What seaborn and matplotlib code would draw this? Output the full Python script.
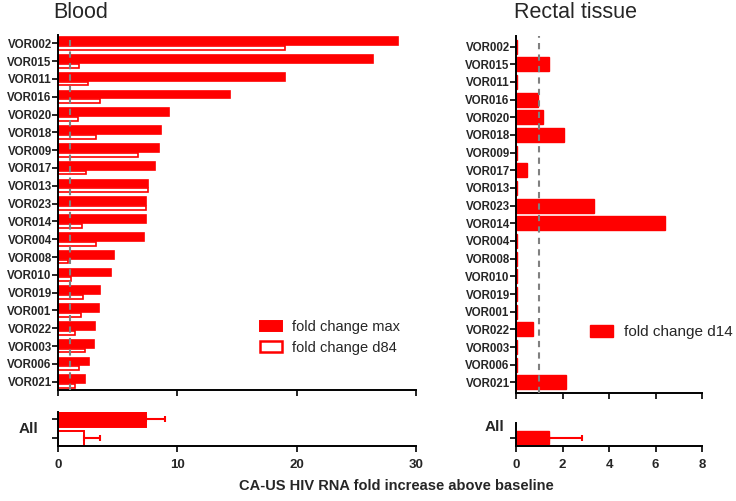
import numpy as np
import pandas as pd
import matplotlib
matplotlib.use("Agg")
import matplotlib.pyplot as plt
import seaborn as sns
from matplotlib.patches import Patch

# ---------------- data ----------------
patients = ["VOR002", "VOR015", "VOR011", "VOR016", "VOR020", "VOR018", "VOR009",
            "VOR017", "VOR013", "VOR023", "VOR014", "VOR004", "VOR008", "VOR010",
            "VOR019", "VOR001", "VOR022", "VOR003", "VOR006", "VOR021"]
blood_max = [28.5, 26.4, 19.0, 14.4, 9.3, 8.6, 8.5, 8.1, 7.5, 7.4,
             7.4, 7.2, 4.7, 4.4, 3.5, 3.4, 3.1, 3.0, 2.6, 2.3]
blood_d84 = [19.0, 1.8, 2.5, 3.5, 1.65, 3.2, 6.7, 2.35, 7.5, 7.4,
             2.0, 3.2, 0.86, 1.1, 2.1, 1.9, 1.45, 2.3, 1.8, 1.45]
rectal_d14 = [0.04, 1.4, 0.04, 0.93, 1.15, 2.08, 0.04, 0.49, 0.04, 3.37,
              6.4, 0.04, 0.04, 0.04, 0.04, 0.04, 0.75, 0.04, 0.04, 2.14]
blood_series = ["fold change max", "fold change d84"]
all_blood_mean = [7.4, 2.2]
all_blood_err = [1.6, 1.3]
rectal_series = ["fold change d14"]
all_rectal_mean = [1.44]
all_rectal_err = [1.39]
blood_ticks = [0, 10, 20, 30]
rectal_ticks = [0, 2, 4, 6, 8]

# ---------------- style ----------------
sns.set_theme(style="ticks")
plt.rcParams["font.family"] = ["Liberation Sans", "DejaVu Sans"]
RED = "#ff0000"
W, H = 736, 501


def rect(left, top, right, bottom):
    return [left / W, 1 - bottom / H, (right - left) / W, (bottom - top) / H]


fig = plt.figure(figsize=(W / 100, H / 100), dpi=100)
ax_b = fig.add_axes(rect(58, 35, 416, 390))
ax_ba = fig.add_axes(rect(58, 411.7, 416, 446))
ax_r = fig.add_axes(rect(516, 36.5, 702, 393))
ax_ra = fig.add_axes(rect(516, 422.7, 702, 446))

# ---------------- blood, per patient ----------------
df_b = pd.DataFrame({
    "patient": patients * 2,
    "value": blood_max + blood_d84,
    "series": [blood_series[0]] * len(patients) + [blood_series[1]] * len(patients),
})
sns.barplot(data=df_b, x="value", y="patient", hue="series", orient="h",
            palette={blood_series[0]: RED, blood_series[1]: RED}, saturation=1,
            errorbar=None, legend=False, width=0.8, edgecolor=RED, linewidth=1.2,
            ax=ax_b)
for i, p in enumerate(ax_b.containers[0]):
    p.set_y(i - 0.35)
    p.set_height(0.44)
for i, p in enumerate(ax_b.containers[1]):
    p.set_y(i + 0.15)
    p.set_height(0.21)
    p.set_facecolor("white")
ax_b.set_xlim(0, 30)
ax_b.set_ylim(19.47, -0.47)
ax_b.set_xticks(blood_ticks)
ax_b.set_xticklabels([])
ax_b.axvline(1, color="#808080", ls=(0, (3, 2.5)), lw=1.5, zorder=5)

# ---------------- blood, all ----------------
sns.barplot(x=all_blood_mean, y=blood_series, orient="h", color=RED, saturation=1,
            errorbar=None, width=0.76, edgecolor=RED, linewidth=1.4, ax=ax_ba)
ax_ba.patches[1].set_facecolor("white")
ax_ba.errorbar(all_blood_mean, [0, 1], xerr=[[0, 0], all_blood_err], fmt="none",
               ecolor=RED, elinewidth=1.5, capsize=2.5, capthick=1.5, zorder=4)
ax_ba.set_xlim(0, 30)
ax_ba.set_ylim(1.4, -0.4)
ax_ba.set_xticks(blood_ticks)
ax_ba.set_yticklabels([])

# ---------------- rectal, per patient ----------------
sns.barplot(x=rectal_d14, y=patients, orient="h", color=RED, saturation=1,
            errorbar=None, width=0.8, edgecolor=RED, linewidth=1.0, ax=ax_r)
ax_r.set_xlim(0, 8)
ax_r.set_ylim(19.6, -0.57)
ax_r.set_xticks(rectal_ticks)
ax_r.set_xticklabels([])
ax_r.axvline(1, color="#808080", ls=(0, (3, 2.5)), lw=1.5, zorder=5)

# ---------------- rectal, all ----------------
sns.barplot(x=all_rectal_mean, y=rectal_series, orient="h", color=RED, saturation=1,
            errorbar=None, width=0.8, edgecolor=RED, linewidth=1.0, ax=ax_ra)
ax_ra.errorbar(all_rectal_mean, [0], xerr=[[0], all_rectal_err], fmt="none",
               ecolor=RED, elinewidth=1.5, capsize=2.5, capthick=1.5, zorder=4)
ax_ra.set_xlim(0, 8)
ax_ra.set_ylim(0.5, -0.9)
ax_ra.set_xticks(rectal_ticks)
ax_ra.set_yticklabels([])

# ---------------- axes styling ----------------
for ax in (ax_b, ax_ba, ax_r, ax_ra):
    sns.despine(ax=ax)
    ax.set_xlabel("")
    ax.set_ylabel("")
    for s in ("left", "bottom"):
        ax.spines[s].set_linewidth(1.4)
        ax.spines[s].set_color("black")
    ax.tick_params(axis="both", length=4, width=1.2, color="black", pad=0.5)
    ax.set_facecolor("white")
for ax in (ax_b, ax_r):
    for lab in ax.get_yticklabels():
        lab.set_fontsize(8.3)
        lab.set_fontweight("bold")
for ax in (ax_ba, ax_ra):
    ax.tick_params(axis="x", pad=5)
    for lab in ax.get_xticklabels():
        lab.set_fontsize(9.5)
        lab.set_fontweight("bold")

# ---------------- legends ----------------
h_b = [Patch(facecolor=RED, edgecolor=RED, linewidth=1.4, label=blood_series[0]),
       Patch(facecolor="white", edgecolor=RED, linewidth=1.8, label=blood_series[1])]
fig.legend(handles=h_b, loc="center left", bbox_to_anchor=(260 / W, 1 - 337.5 / H),
           frameon=False, fontsize=10.5, handlelength=1.5, handleheight=0.75,
           handletextpad=0.7, labelspacing=0.45, borderpad=0, borderaxespad=0)
h_r = [Patch(facecolor=RED, edgecolor=RED, linewidth=1.0, label=rectal_series[0])]
fig.legend(handles=h_r, loc="center left", bbox_to_anchor=(590 / W, 1 - 332 / H),
           frameon=False, fontsize=11, handlelength=1.5, handleheight=0.9,
           handletextpad=0.7, borderpad=0, borderaxespad=0)

# ---------------- texts ----------------
fig.text(53 / W, 1 - 13 / H, "Blood", fontsize=15.5, ha="left", va="center")
fig.text(514 / W, 1 - 13 / H, "Rectal tissue", fontsize=15.5, ha="left", va="center")
fig.text(28.5 / W, 1 - 429 / H, "All", fontsize=11, fontweight="bold", ha="center", va="center")
fig.text(494.5 / W, 1 - 426.7 / H, "All", fontsize=11, fontweight="bold", ha="center", va="center")
fig.text(396 / W, 1 - 485.5 / H, "CA-US HIV RNA fold increase above baseline",
         fontsize=10.5, fontweight="bold", ha="center", va="center")

fig.savefig("out.png", dpi=100, facecolor="white")
